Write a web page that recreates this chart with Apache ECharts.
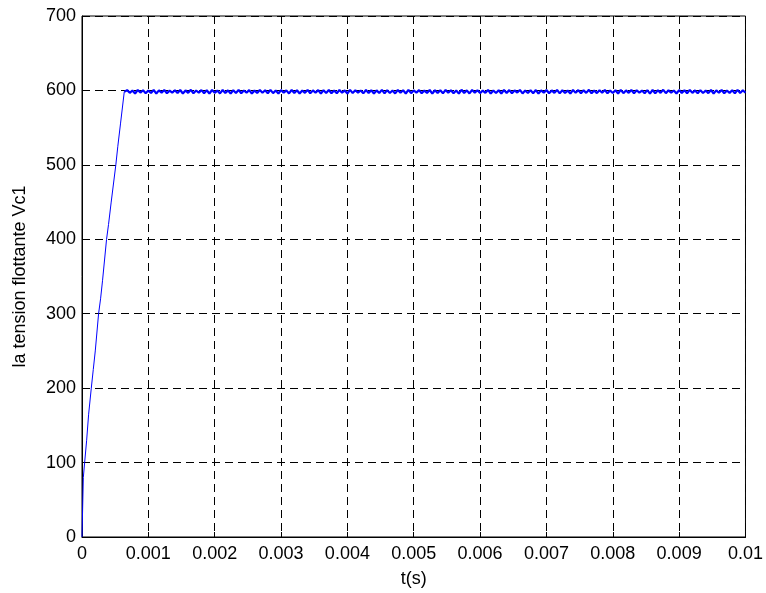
<!DOCTYPE html>
<html><head><meta charset="utf-8">
<script src="https://cdn.jsdelivr.net/npm/echarts@6/dist/echarts.min.js"></script>
<style>html,body{margin:0;padding:0;background:#fff}#c{width:766px;height:593px}</style>
</head><body><div id="c"></div>
<script>
// Rising phase: [time (s), voltage (V)]
const rampPoints = [
  [0, 0], [0.00002, 80], [0.00004, 100], [0.00007, 130], [0.0001, 165],
  [0.00014, 200], [0.00017, 225], [0.0002, 250], [0.00025, 300], [0.00028, 320],
  [0.00031, 345], [0.00037, 400], [0.0004, 420], [0.00044, 450], [0.00051, 500],
  [0.00054, 525], [0.00058, 555], [0.000637, 598]
];
const steadyStart = 0.00064;
const steadyStep = 0.00004;
const steadyValues = [
  596.0,600.4,596.8,599.9,595.9,600.6,597.1,600.2,596.3,599.8,596.6,600.7,595.8,600.1,597.0,600.5,596.2,599.7,596.9,600.3,
  596.4,600.6,595.9,600.0,596.7,600.8,596.1,599.9,597.0,600.4,596.3,600.2,595.8,600.6,596.8,599.8,596.0,600.5,596.5,600.1,
  595.9,600.3,596.6,600.7,596.2,599.9,597.1,600.4,595.8,600.0,596.5,600.6,596.9,600.2,596.1,600.8,596.4,599.8,595.9,600.5,
  596.8,600.1,596.0,600.6,596.5,600.3,595.9,599.9,596.7,600.7,596.2,600.0,597.0,600.4,595.8,600.2,596.6,600.6,596.3,599.8,
  596.2,600.5,596.9,600.0,595.9,600.7,596.4,600.2,597.0,599.9,596.1,600.6,596.7,600.3,595.8,600.1,596.5,600.8,596.0,600.4,
  596.6,599.9,596.0,600.5,596.8,600.2,595.9,600.7,596.3,600.0,597.1,600.4,596.2,599.8,596.7,600.6,595.8,600.3,596.4,600.1,
  596.1,600.6,596.9,600.3,596.3,599.9,595.9,600.8,596.6,600.1,596.0,600.5,597.0,600.2,596.4,599.8,596.8,600.7,595.8,600.0,
  596.5,600.2,595.9,600.6,596.7,600.4,596.2,600.0,597.1,600.7,596.0,599.9,596.6,600.3,596.3,600.5,595.9,600.1,596.9,600.6,
  596.3,600.0,596.8,600.7,596.0,600.2,596.5,599.8,595.8,600.6,596.9,600.4,596.2,600.1,596.7,600.8,596.1,599.9,596.4,600.3,
  596.9,600.5,596.1,599.9,596.6,600.3,595.9,600.7,596.4,600.0,596.8,600.6,596.0,600.2,597.0,599.8,596.3,600.4,595.8,600.6,
  596.0,600.3,596.7,600.8,596.3,600.1,596.9,599.9,595.9,600.5,596.5,600.2,596.1,600.7,596.8,600.0,596.2,600.4,596.6,599.8,
  596.4,600.6,595.9,600.1,596.8,600.5,596.2,599.9,596.7,600.3,596.0,600.7,596.5,600.2,596.9
];
const xTicks = ['0','0.001','0.002','0.003','0.004','0.005','0.006','0.007','0.008','0.009','0.01'];
const yTicks = [0,100,200,300,400,500,600,700];
const xLabel = 't(s)';
const yLabel = 'la tension flottante Vc1';

const steadyData = [rampPoints[rampPoints.length - 1]];
steadyValues.forEach((v, i) => {
  const t = steadyStart + i * steadyStep;
  if (t <= 0.01) steadyData.push([t, v]);
});

const font = 'Liberation Sans, Arial, Helvetica, sans-serif';
const fs = 18;
const chart = echarts.init(document.getElementById('c'));
chart.setOption({
  animation: false,
  grid: { left: 82, right: 20, top: 16, bottom: 54, show: true, borderColor: '#000', borderWidth: 1 },
  xAxis: {
    type: 'value', min: 0, max: 0.01, interval: 0.001,
    name: xLabel, nameLocation: 'middle', nameGap: 33,
    nameTextStyle: { color: '#000', fontSize: fs, fontFamily: font },
    axisLine: { show: true, lineStyle: { color: '#000', width: 1 } },
    axisTick: { show: true, inside: true, length: 5, lineStyle: { color: '#000' } },
    axisLabel: { color: '#000', fontSize: fs, fontFamily: font, margin: 8,
      formatter: (v) => xTicks[Math.round(v / 0.001)] },
    splitLine: { show: true, lineStyle: { color: '#000', type: [8, 5], width: 1 } }
  },
  yAxis: {
    type: 'value', min: 0, max: 700, interval: 100,
    name: yLabel, nameLocation: 'middle', nameGap: 53,
    nameTextStyle: { color: '#000', fontSize: fs, fontFamily: font },
    axisLine: { show: true, lineStyle: { color: '#000', width: 1 } },
    axisTick: { show: true, inside: true, length: 5, lineStyle: { color: '#000' } },
    axisLabel: { color: '#000', fontSize: fs, fontFamily: font, margin: 6,
      formatter: (v) => yTicks.includes(v) ? String(v) : '' },
    splitLine: { show: true, lineStyle: { color: '#000', type: [8, 5], width: 1 } }
  },
  series: [{
    type: 'line', data: rampPoints, showSymbol: false, symbol: 'none',
    lineStyle: { color: '#0000ff', width: 1 }, z: 5
  }, {
    type: 'line', data: steadyData, showSymbol: false, symbol: 'none',
    lineStyle: { color: '#0000ff', width: 2.2 }, z: 5
  }]
});
</script></body></html>
